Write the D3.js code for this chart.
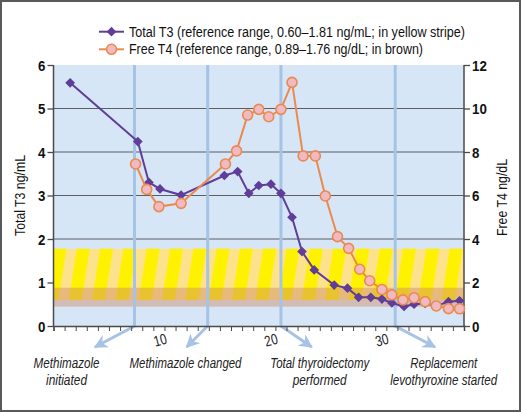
<!DOCTYPE html>
<html><head><meta charset="utf-8">
<script src="https://cdn.jsdelivr.net/npm/d3@7"></script>
<style>
html,body{margin:0;padding:0;background:#fff;}
svg text{font-family:"Liberation Sans","Arial",sans-serif;}
</style></head>
<body><svg id="c" width="521" height="412"></svg>
<script>
// ---- data ----
const t3Days = [1.5, 7.6, 8.6, 9.6, 11.5, 15.4, 16.6, 17.6, 18.5, 19.6, 20.5, 21.5, 22.4, 23.5, 25.3, 26.5, 27.5, 28.6, 29.6, 30.5, 31.6, 32.5, 33.5, 34.5, 35.6, 36.6];
const t3Vals = [5.59, 4.24, 3.30, 3.15, 3.01, 3.46, 3.55, 3.05, 3.23, 3.26, 3.05, 2.50, 1.71, 1.29, 0.94, 0.87, 0.66, 0.66, 0.62, 0.53, 0.45, 0.50, 0.52, 0.46, 0.56, 0.58];
const ft4Days = [7.4, 8.4, 9.5, 11.5, 15.5, 16.5, 17.5, 18.5, 19.4, 20.5, 21.5, 22.5, 23.6, 24.5, 25.6, 26.6, 27.6, 28.5, 29.6, 30.5, 31.5, 32.5, 33.5, 34.5, 35.6, 36.6];
const ft4Vals = [7.45, 6.28, 5.49, 5.64, 7.45, 8.05, 9.70, 9.96, 9.62, 9.96, 11.2, 7.82, 7.82, 5.98, 4.11, 3.57, 2.61, 2.08, 1.68, 1.43, 1.20, 1.30, 1.12, 0.92, 0.80, 0.79];
const t3Ref = [0.60, 1.78];
const ft4Ref = [0.89, 1.76];
const eventDays = [7.3, 13.9, 20.5, 30.8];
const eventLabels = [["Methimazole","initiated"],["Methimazole changed"],["Total thyroidectomy","performed"],["Replacement","levothyroxine started"]];
const xTickLabels = [10, 20, 30];
const leftTicks = [0,1,2,3,4,5,6];
const rightTicks = [0,2,4,6,8,10,12];
const legendLabels = ["Total T3 (reference range, 0.60\u20131.81 ng/mL; in yellow stripe)","Free T4 (reference range, 0.89\u20131.76 ng/dL; in brown)"];

// ---- layout ----
const L = 53.5, R = 464, T = 65, B = 326;
const svg = d3.select("#c");
const x = d3.scaleLinear().domain([0,37]).range([L,R]);
const yL = d3.scaleLinear().domain([0,6]).range([B,T]);
const yR = d3.scaleLinear().domain([0,12]).range([B,T]);
const purple = "#5f3d98", orange = "#eb8a4e", evBlue = "#a6c3e6";
const fit = (sel, w) => sel.attr("textLength", w).attr("lengthAdjust", "spacingAndGlyphs");

svg.append("rect").attr("x",1).attr("y",1).attr("width",519).attr("height",410)
  .attr("fill","#fff").attr("stroke","#595959").attr("stroke-width",2);

// plot background
svg.append("rect").attr("x",L).attr("y",T).attr("width",R-L).attr("height",B-T).attr("fill","#d6e6f6");

// gridlines
svg.append("g").selectAll("line").data([1,2,3,4,5]).join("line")
  .attr("x1",L).attr("x2",R).attr("y1",d=>yL(d)).attr("y2",d=>yL(d))
  .attr("stroke","#5a5f66").attr("stroke-width",1.2);

// yellow stripe band
const defs = svg.append("defs");
defs.append("clipPath").attr("id","bandclip").append("rect")
  .attr("x",L).attr("y",yL(t3Ref[1])).attr("width",R-L).attr("height",yL(t3Ref[0])-yL(t3Ref[1]));
const band = svg.append("g").attr("clip-path","url(#bandclip)");
const bTop = yL(t3Ref[1]), bBot = yL(t3Ref[0]);
band.append("rect").attr("x",L).attr("y",bTop).attr("width",R-L).attr("height",bBot-bTop).attr("fill","#fde28e");
const P = 23.3, W = 13, S = 8;
const ks = d3.range(-1, Math.ceil((R-L)/P)+2);
band.selectAll("path.s").data(ks).join("path").attr("class","s")
  .attr("d",k=>{const x0=L+k*P; return `M${x0},${bTop}L${x0+W},${bTop}L${x0+W-S},${bBot}L${x0-S},${bBot}Z`;})
  .attr("fill","#fff200");

// brown band (FT4 reference)
svg.append("rect").attr("x",L).attr("y",yR(ft4Ref[1])).attr("width",R-L)
  .attr("height",yR(ft4Ref[0])-yR(ft4Ref[1])).attr("fill","rgb(205,139,103)").attr("fill-opacity",0.46);

// event lines + arrows
defs.append("marker").attr("id","arr").attr("viewBox","0 0 10 10").attr("refX",9).attr("refY",5)
  .attr("markerWidth",4.6).attr("markerHeight",4.6).attr("orient","auto").attr("markerUnits","strokeWidth")
  .append("path").attr("d","M0,0L10,5L0,10L3,5Z").attr("fill",evBlue);
const tips = [[95,347],[186.7,347],[311.7,347],[435,347]];
const ev = svg.append("g");
ev.selectAll("path").data(eventDays).join("path")
  .attr("d",(d,i)=>`M${x(d)},${T}L${x(d)},${B}L${tips[i][0]},${tips[i][1]}`)
  .attr("fill","none").attr("stroke",evBlue).attr("stroke-width",3).attr("marker-end","url(#arr)");

// axes
const axL = svg.append("g").attr("transform",`translate(${L},0)`)
  .call(d3.axisLeft(yL).tickValues(leftTicks).tickSize(6).tickPadding(2).tickFormat(d3.format("d")));
const axR = svg.append("g").attr("transform",`translate(${R},0)`)
  .call(d3.axisRight(yR).tickValues(rightTicks).tickSize(6).tickPadding(2).tickFormat(d3.format("d")));
[axL,axR].forEach(a=>{
  a.select(".domain").attr("stroke","#4a4a4a").attr("stroke-width",1.5).attr("d",`M0,${T}V${B}`);
  a.selectAll(".tick line").attr("stroke","#4a4a4a").attr("stroke-width",1.3);
  a.selectAll(".tick text").attr("fill","#111").attr("font-size",14).attr("font-weight","bold").attr("dy","0.36em");
  a.selectAll(".tick text").each(function(){ const t=d3.select(this); fit(t, t.text().length*7.4); });
});
const axB = svg.append("g").attr("transform",`translate(0,${B})`)
  .call(d3.axisBottom(x).tickValues(d3.range(0,38)).tickSize(5).tickFormat(""));
axB.select(".domain").attr("stroke","#4a4a4a").attr("stroke-width",1.5);
axB.selectAll(".tick line").attr("stroke","#4a4a4a").attr("stroke-width",1);
svg.append("g").selectAll("text").data(xTickLabels).join("text")
  .attr("transform",d=>`translate(${x(d)-3},${345}) rotate(-15)`)
  .attr("text-anchor","middle").attr("font-size",15).attr("fill","#222").text(d=>d)
  .attr("textLength",13).attr("lengthAdjust","spacingAndGlyphs");

// axis titles
fit(svg.append("text").attr("transform",`translate(25,${(T+B)/2}) rotate(-90)`).attr("text-anchor","middle")
  .attr("font-size",14).attr("fill","#111").text("Total T3 ng/mL"), 81);
fit(svg.append("text").attr("transform",`translate(507,${(T+B)/2+2}) rotate(-90)`).attr("text-anchor","middle")
  .attr("font-size",14).attr("fill","#111").text("Free T4 ng/dL"), 77);

// event annotations
const evX = [66.5, 185.5, 319.7, 443.7];
const evW = [[66,41],[112],[99,54],[67,107]];
const ann = svg.append("g");
eventLabels.forEach((lines,i)=>{
  lines.forEach((t,j)=>{
    fit(ann.append("text").attr("x",evX[i]).attr("y",368+j*17).attr("text-anchor","middle")
      .attr("font-size",14).attr("font-style","italic").attr("fill","#222").text(t), evW[i][j]);
  });
});

// series
const diamond = d3.symbol().type(d3.symbolDiamond2).size(60);
const lineT3 = d3.line().x(d=>x(d[0])).y(d=>yL(d[1]));
const t3 = d3.zip(t3Days,t3Vals);
svg.append("path").datum(t3).attr("d",lineT3).attr("fill","none").attr("stroke",purple).attr("stroke-width",2);
svg.append("g").selectAll("path").data(t3).join("path")
  .attr("transform",d=>`translate(${x(d[0])},${yL(d[1])})`).attr("d",diamond).attr("fill",purple);

const lineF = d3.line().x(d=>x(d[0])).y(d=>yR(d[1]));
const f4 = d3.zip(ft4Days,ft4Vals);
svg.append("path").datum(f4).attr("d",lineF).attr("fill","none").attr("stroke",orange).attr("stroke-width",2);
svg.append("g").selectAll("circle").data(f4).join("circle")
  .attr("cx",d=>x(d[0])).attr("cy",d=>yR(d[1])).attr("r",5)
  .attr("fill","#f1b9c2").attr("stroke",orange).attr("stroke-width",1.6);

// legend
const lg = svg.append("g");
const ly = [31.7, 49.3];
lg.append("line").attr("x1",99).attr("x2",124).attr("y1",ly[0]).attr("y2",ly[0]).attr("stroke",purple).attr("stroke-width",2);
lg.append("path").attr("transform",`translate(111.5,${ly[0]})`).attr("d",diamond).attr("fill",purple);
lg.append("line").attr("x1",99).attr("x2",124).attr("y1",ly[1]).attr("y2",ly[1]).attr("stroke",orange).attr("stroke-width",2);
lg.append("circle").attr("cx",111.5).attr("cy",ly[1]).attr("r",5).attr("fill","#f1b9c2").attr("stroke",orange).attr("stroke-width",1.6);
const legW = [336, 294];
legendLabels.forEach((t,i)=>{
  fit(lg.append("text").attr("x",129).attr("y",ly[i]).attr("dy","0.35em").attr("font-size",14).attr("fill","#111").text(t), legW[i]);
});
</script></body></html>
